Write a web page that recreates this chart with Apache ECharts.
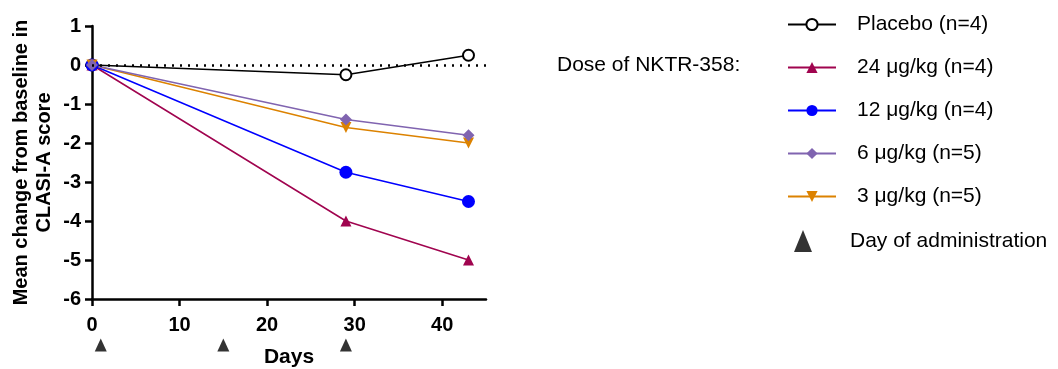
<!DOCTYPE html>
<html>
<head>
<meta charset="utf-8">
<script src="https://cdn.jsdelivr.net/npm/echarts@6/dist/echarts.min.js"></script>
<style>
  html, body { margin: 0; padding: 0; background: #fff; }
  #chart { width: 1058px; height: 369px; }
</style>
</head>
<body>
<div id="chart"></div>
<script>
// data
const days = [0, 29, 43]
const placebo = [0, -0.25, 0.25]
const dose24 = [0, -4, -5]
const dose12 = [0, -2.75, -3.5]
const dose6 = [0, -1.4, -1.8]
const dose3 = [0, -1.6, -2.0]
const dosingDays = [1, 15, 29]
const xTicks = [0, 10, 20, 30, 40]

const font = 'Liberation Sans, Arial, sans-serif'

function pairs(ys) {
  return days.map((d, i) => [d, ys[i]])
}

function lineSeries(name, ys, color, symbol, size, extra) {
  return Object.assign({
    name: name,
    type: 'line',
    data: pairs(ys),
    symbol: symbol,
    symbolSize: size,
    lineStyle: { color: color, width: 1.5 },
    itemStyle: { color: color },
    animation: false
  }, extra || {})
}

const chart = echarts.init(document.getElementById('chart'))
chart.setOption({
  textStyle: { fontFamily: font },
  grid: [
    { left: 92, top: 26, width: 394, height: 273, outerBoundsMode: 'none' },
    { left: 92, top: 336, width: 394, height: 18, outerBoundsMode: 'none' }
  ],
  xAxis: [{
    gridIndex: 0,
    type: 'value',
    min: 0,
    max: 45,
    interval: 10,
    name: 'Days',
    nameLocation: 'middle',
    nameGap: 48,
    nameTextStyle: { fontSize: 21, fontWeight: 'bold', color: '#000' },
    axisLine: { onZero: false, lineStyle: { color: '#000', width: 2.5 } },
    axisTick: { length: 7, lineStyle: { color: '#000', width: 2.5 }, customValues: xTicks },
    axisLabel: { fontSize: 20, fontWeight: 'bold', color: '#000', margin: 16, customValues: xTicks },
    splitLine: { show: false }
  }, {
    gridIndex: 1,
    type: 'value',
    min: 0,
    max: 45,
    show: false
  }],
  yAxis: [{
    gridIndex: 0,
    type: 'value',
    min: -6,
    max: 1,
    interval: 1,
    name: 'Mean change from baseline in\nCLASI-A score',
    nameLocation: 'middle',
    nameGap: 36,
    nameTextStyle: { fontSize: 20, fontWeight: 'bold', color: '#000', lineHeight: 23 },
    axisLine: { show: true, onZero: false, lineStyle: { color: '#000', width: 2.5 } },
    axisTick: { show: true, length: 7, lineStyle: { color: '#000', width: 2.5 } },
    axisLabel: { fontSize: 20, fontWeight: 'bold', color: '#000', margin: 11 },
    splitLine: { show: false }
  }, {
    gridIndex: 1,
    type: 'value',
    min: -1,
    max: 1,
    show: false
  }],
  legend: [{
    data: [
      { name: 'Placebo (n=4)', itemStyle: { borderWidth: 1.5 } },
      '24 μg/kg (n=4)', '12 μg/kg (n=4)', '6 μg/kg (n=5)', '3 μg/kg (n=5)'
    ],
    orient: 'vertical',
    left: 782,
    top: 9,
    itemWidth: 48,
    itemHeight: 14,
    itemGap: 22,
    textStyle: { fontSize: 21, color: '#000', padding: [0, 0, 0, 16] },
    selectedMode: false
  }, {
    data: [{ name: 'Day of administration', icon: 'triangle', itemStyle: { color: '#000' } }],
    left: 789,
    top: 225,
    itemWidth: 18,
    itemHeight: 22,
    textStyle: { fontSize: 21, color: '#000', padding: [0, 0, 0, 33] },
    selectedMode: false
  }],
  graphic: [{
    type: 'text',
    left: 557,
    top: 55,
    style: { text: 'Dose of NKTR-358:', fontSize: 21, fill: '#000', fontFamily: font }
  }],
  series: [
    lineSeries('Placebo (n=4)', placebo, '#000', 'emptyCircle', 11, {
      itemStyle: { color: '#000', borderWidth: 2.2 },
      markLine: {
        silent: true,
        symbol: 'none',
        label: { show: false },
        lineStyle: { color: '#000', type: [2, 6], width: 2.5 },
        data: [{ yAxis: 0 }]
      }
    }),
    lineSeries('24 μg/kg (n=4)', dose24, '#a0044f', 'triangle', 11),
    lineSeries('12 μg/kg (n=4)', dose12, '#0000ff', 'circle', 13),
    lineSeries('3 μg/kg (n=5)', dose3, '#dc8200', 'path://M0,0 L10,0 L5,10 Z', 11),
    lineSeries('6 μg/kg (n=5)', dose6, '#8064b0', 'diamond', 12),
    {
      name: 'Day of administration',
      type: 'scatter',
      xAxisIndex: 1,
      yAxisIndex: 1,
      data: dosingDays.map(d => [d, 0]),
      symbol: 'triangle',
      symbolSize: [12, 13],
      itemStyle: { color: '#000' },
      animation: false
    }
  ]
})
</script>
</body>
</html>
